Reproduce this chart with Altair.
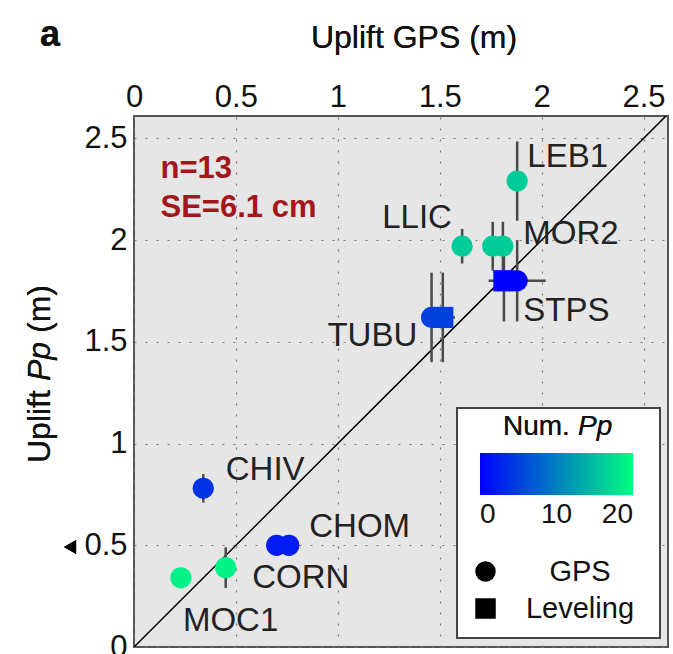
import altair as alt
import pandas as pd

# ---- data ----
stations = ["LEB1", "LLIC", "MOR2", "MOR2", "STPS", "STPS", "TUBU", "TUBU",
            "CHIV", "CHOM", "CHOM", "CORN", "MOC1"]
kinds = ["GPS", "GPS", "GPS", "GPS", "Leveling", "GPS", "GPS", "Leveling",
         "GPS", "GPS", "GPS", "GPS", "GPS"]
uplift_gps = [1.88, 1.61, 1.76, 1.81, 1.815, 1.88, 1.46, 1.515,
              0.34, 0.70, 0.76, 0.45, 0.23]
uplift_pp = [2.29, 1.97, 1.97, 1.97, 1.80, 1.80, 1.62, 1.62,
             0.78, 0.50, 0.50, 0.39, 0.34]
err_pp = [0.195, 0.085, 0.12, 0.12, 0.20, 0.20, 0.22, 0.22,
          0.07, 0.0, 0.0, 0.10, 0.0]
err_gps = [0, 0, 0, 0, 0, 0.14, 0, 0.06, 0, 0, 0, 0, 0]
num_pp = [16, 16, 16, 16, 0, 0, 5, 5, 4, 2, 2, 19, 19]

label_names = ["LEB1", "LLIC", "MOR2", "STPS", "TUBU", "CHIV", "CHOM", "CORN", "MOC1"]
label_x = [1.93, 1.56, 1.91, 1.91, 1.39, 0.45, 0.86, 0.58, 0.24]
label_y = [2.41, 2.11, 2.03, 1.65, 1.53, 0.87, 0.59, 0.34, 0.13]
label_align = ["left", "right", "left", "left", "right", "left", "left", "left", "left"]

stats_text = ["n=13", "SE=6.1 cm"]
stats_x = [0.13, 0.13]
stats_y = [2.35, 2.16]

one_to_one = [0.0, 2.62]
ticks = [0, 0.5, 1, 1.5, 2, 2.5]
cbar_ticks = [0, 10, 20]

FONT = "Liberation Sans"

df = pd.DataFrame({
    "station": stations, "kind": kinds, "x": uplift_gps, "y": uplift_pp,
    "ey": err_pp, "ex": err_gps, "num": num_pp,
})
df["ylo"] = df["y"] - df["ey"]
df["yhi"] = df["y"] + df["ey"]
df["xlo"] = df["x"] - df["ex"]
df["xhi"] = df["x"] + df["ex"]

df_lab = pd.DataFrame({"name": label_names, "x": label_x, "y": label_y, "al": label_align})
df_stats = pd.DataFrame({"t": stats_text, "x": stats_x, "y": stats_y})
df_line = pd.DataFrame({"x": one_to_one, "y": one_to_one})

xs = alt.Scale(domain=[0, 2.62], nice=False, zero=False)
ys = alt.Scale(domain=[0, 2.61], nice=False, zero=False)

xaxis = alt.Axis(orient="top", values=ticks, format="~g", title=None,
                 labelFontSize=31, labelFont=FONT, labelColor="#111",
                 labelPadding=3, tickSize=0, domain=False, grid=True,
                 gridDash=[2, 9], gridColor="#777", gridWidth=1.2, labelFlush=False)
yaxis = alt.Axis(orient="left", values=ticks, format="~g", title=None,
                 labelFontSize=31, labelFont=FONT, labelColor="#111",
                 labelPadding=7, tickSize=0, domain=False, grid=True,
                 gridDash=[2, 9], gridColor="#777", gridWidth=1.2, labelFlush=False)

base = alt.Chart(df)

line = alt.Chart(df_line).mark_line(color="black", strokeWidth=1.5, clip=True).encode(
    x=alt.X("x:Q", scale=xs, axis=xaxis),
    y=alt.Y("y:Q", scale=ys, axis=yaxis),
)

vbars = base.transform_filter("datum.ey > 0").mark_rule(color="#4a4a4a", strokeWidth=2.5).encode(
    x="x:Q", y="ylo:Q", y2="yhi:Q")
hbars = base.transform_filter("datum.ex > 0").mark_rule(color="#4a4a4a", strokeWidth=2.5).encode(
    x="xlo:Q", x2="xhi:Q", y="y:Q")

points = base.mark_point(filled=True, size=450, opacity=1, strokeWidth=0).encode(
    x="x:Q", y="y:Q",
    color=alt.Color("num:Q",
                    scale=alt.Scale(domain=[0, 20], range=["#0000ff", "#00ff80"], interpolate="rgb"),
                    legend=alt.Legend(orient="none", legendX=346, legendY=337, direction="horizontal",
                                      title=None, gradientLength=153, gradientThickness=42,
                                      values=cbar_ticks, labelFontSize=28, labelFont=FONT,
                                      labelColor="#111", gradientStrokeWidth=0, padding=0,
                                      labelOffset=6)),
    shape=alt.Shape("kind:N",
                    scale=alt.Scale(domain=["GPS", "Leveling"], range=["circle", "square"]),
                    legend=alt.Legend(orient="none", legendX=337, legendY=441, title=None,
                                      symbolSize=420, symbolFillColor="black",
                                      symbolStrokeColor="black", symbolStrokeWidth=0,
                                      labelFontSize=29, labelFont=FONT, labelColor="#111",
                                      labelAlign="center", labelOffset=80, rowPadding=7,
                                      padding=0)),
)

labels_left = alt.Chart(df_lab).transform_filter("datum.al == 'left'").mark_text(
    fontSize=33, font=FONT, color="#222", baseline="middle", align="left").encode(
    x="x:Q", y="y:Q", text="name:N")
labels_right = alt.Chart(df_lab).transform_filter("datum.al == 'right'").mark_text(
    fontSize=33, font=FONT, color="#222", baseline="middle", align="right").encode(
    x="x:Q", y="y:Q", text="name:N")

stats = alt.Chart(df_stats).mark_text(fontSize=31, font=FONT, fontWeight="bold", color="#a3161c",
                                       baseline="middle", align="left").encode(
    x="x:Q", y="y:Q", text="t:N")

box = alt.Chart(df_line).mark_rect(fill="white", stroke="#444", strokeWidth=2).encode(
    x=alt.value(323), x2=alt.value(526), y=alt.value(292), y2=alt.value(522))

num_t = alt.Chart(df_line).mark_text(fontSize=28, font=FONT, color="#111", align="left",
                                     baseline="middle").encode(
    x=alt.value(369), y=alt.value(311), text=alt.value("Num."))
pp_t = alt.Chart(df_line).mark_text(fontSize=28, font=FONT, fontStyle="italic", color="#111",
                                    align="left", baseline="middle").encode(
    x=alt.value(444), y=alt.value(311), text=alt.value("Pp"))

xtitle = alt.Chart(df_line).mark_text(fontSize=32, font=FONT, color="#111", align="center",
                                      baseline="middle").encode(
    x=alt.value(280), y=alt.value(-78), text=alt.value("Uplift GPS (m)"))

yt1 = alt.Chart(df_line).mark_text(fontSize=32, font=FONT, color="#111", align="left",
                                   baseline="middle", angle=270).encode(
    x=alt.value(-94), y=alt.value(347), text=alt.value("Uplift"))
yt2 = alt.Chart(df_line).mark_text(fontSize=32, font=FONT, fontStyle="italic", color="#111",
                                   align="left", baseline="middle", angle=270).encode(
    x=alt.value(-94), y=alt.value(265), text=alt.value("Pp"))
yt3 = alt.Chart(df_line).mark_text(fontSize=32, font=FONT, color="#111", align="left",
                                   baseline="middle", angle=270).encode(
    x=alt.value(-94), y=alt.value(217), text=alt.value("(m)"))

panel = alt.Chart(df_line).mark_text(fontSize=36, font=FONT, fontWeight="bold", color="#111",
                                     align="center", baseline="middle").encode(
    x=alt.value(-84), y=alt.value(-81), text=alt.value("a"))

tri = alt.Chart(df_line).mark_point(shape="triangle-left", filled=True, color="black", size=200,
                                    opacity=1).encode(x=alt.value(-64), y=alt.value(431))

chart = alt.layer(
    line, vbars, hbars, points, labels_left, labels_right, stats, box, num_t, pp_t,
    xtitle, yt1, yt2, yt3, panel, tri
).properties(
    width=534, height=531,
    padding={"left": 134, "top": 116, "right": 5, "bottom": 7},
    autosize=alt.AutoSizeParams(type="none"),
    background="white",
).configure_view(
    fill="#e6e6e6", stroke="#555", strokeWidth=2
)

chart.save("out.html", embed_options={"renderer": "svg", "actions": False})
